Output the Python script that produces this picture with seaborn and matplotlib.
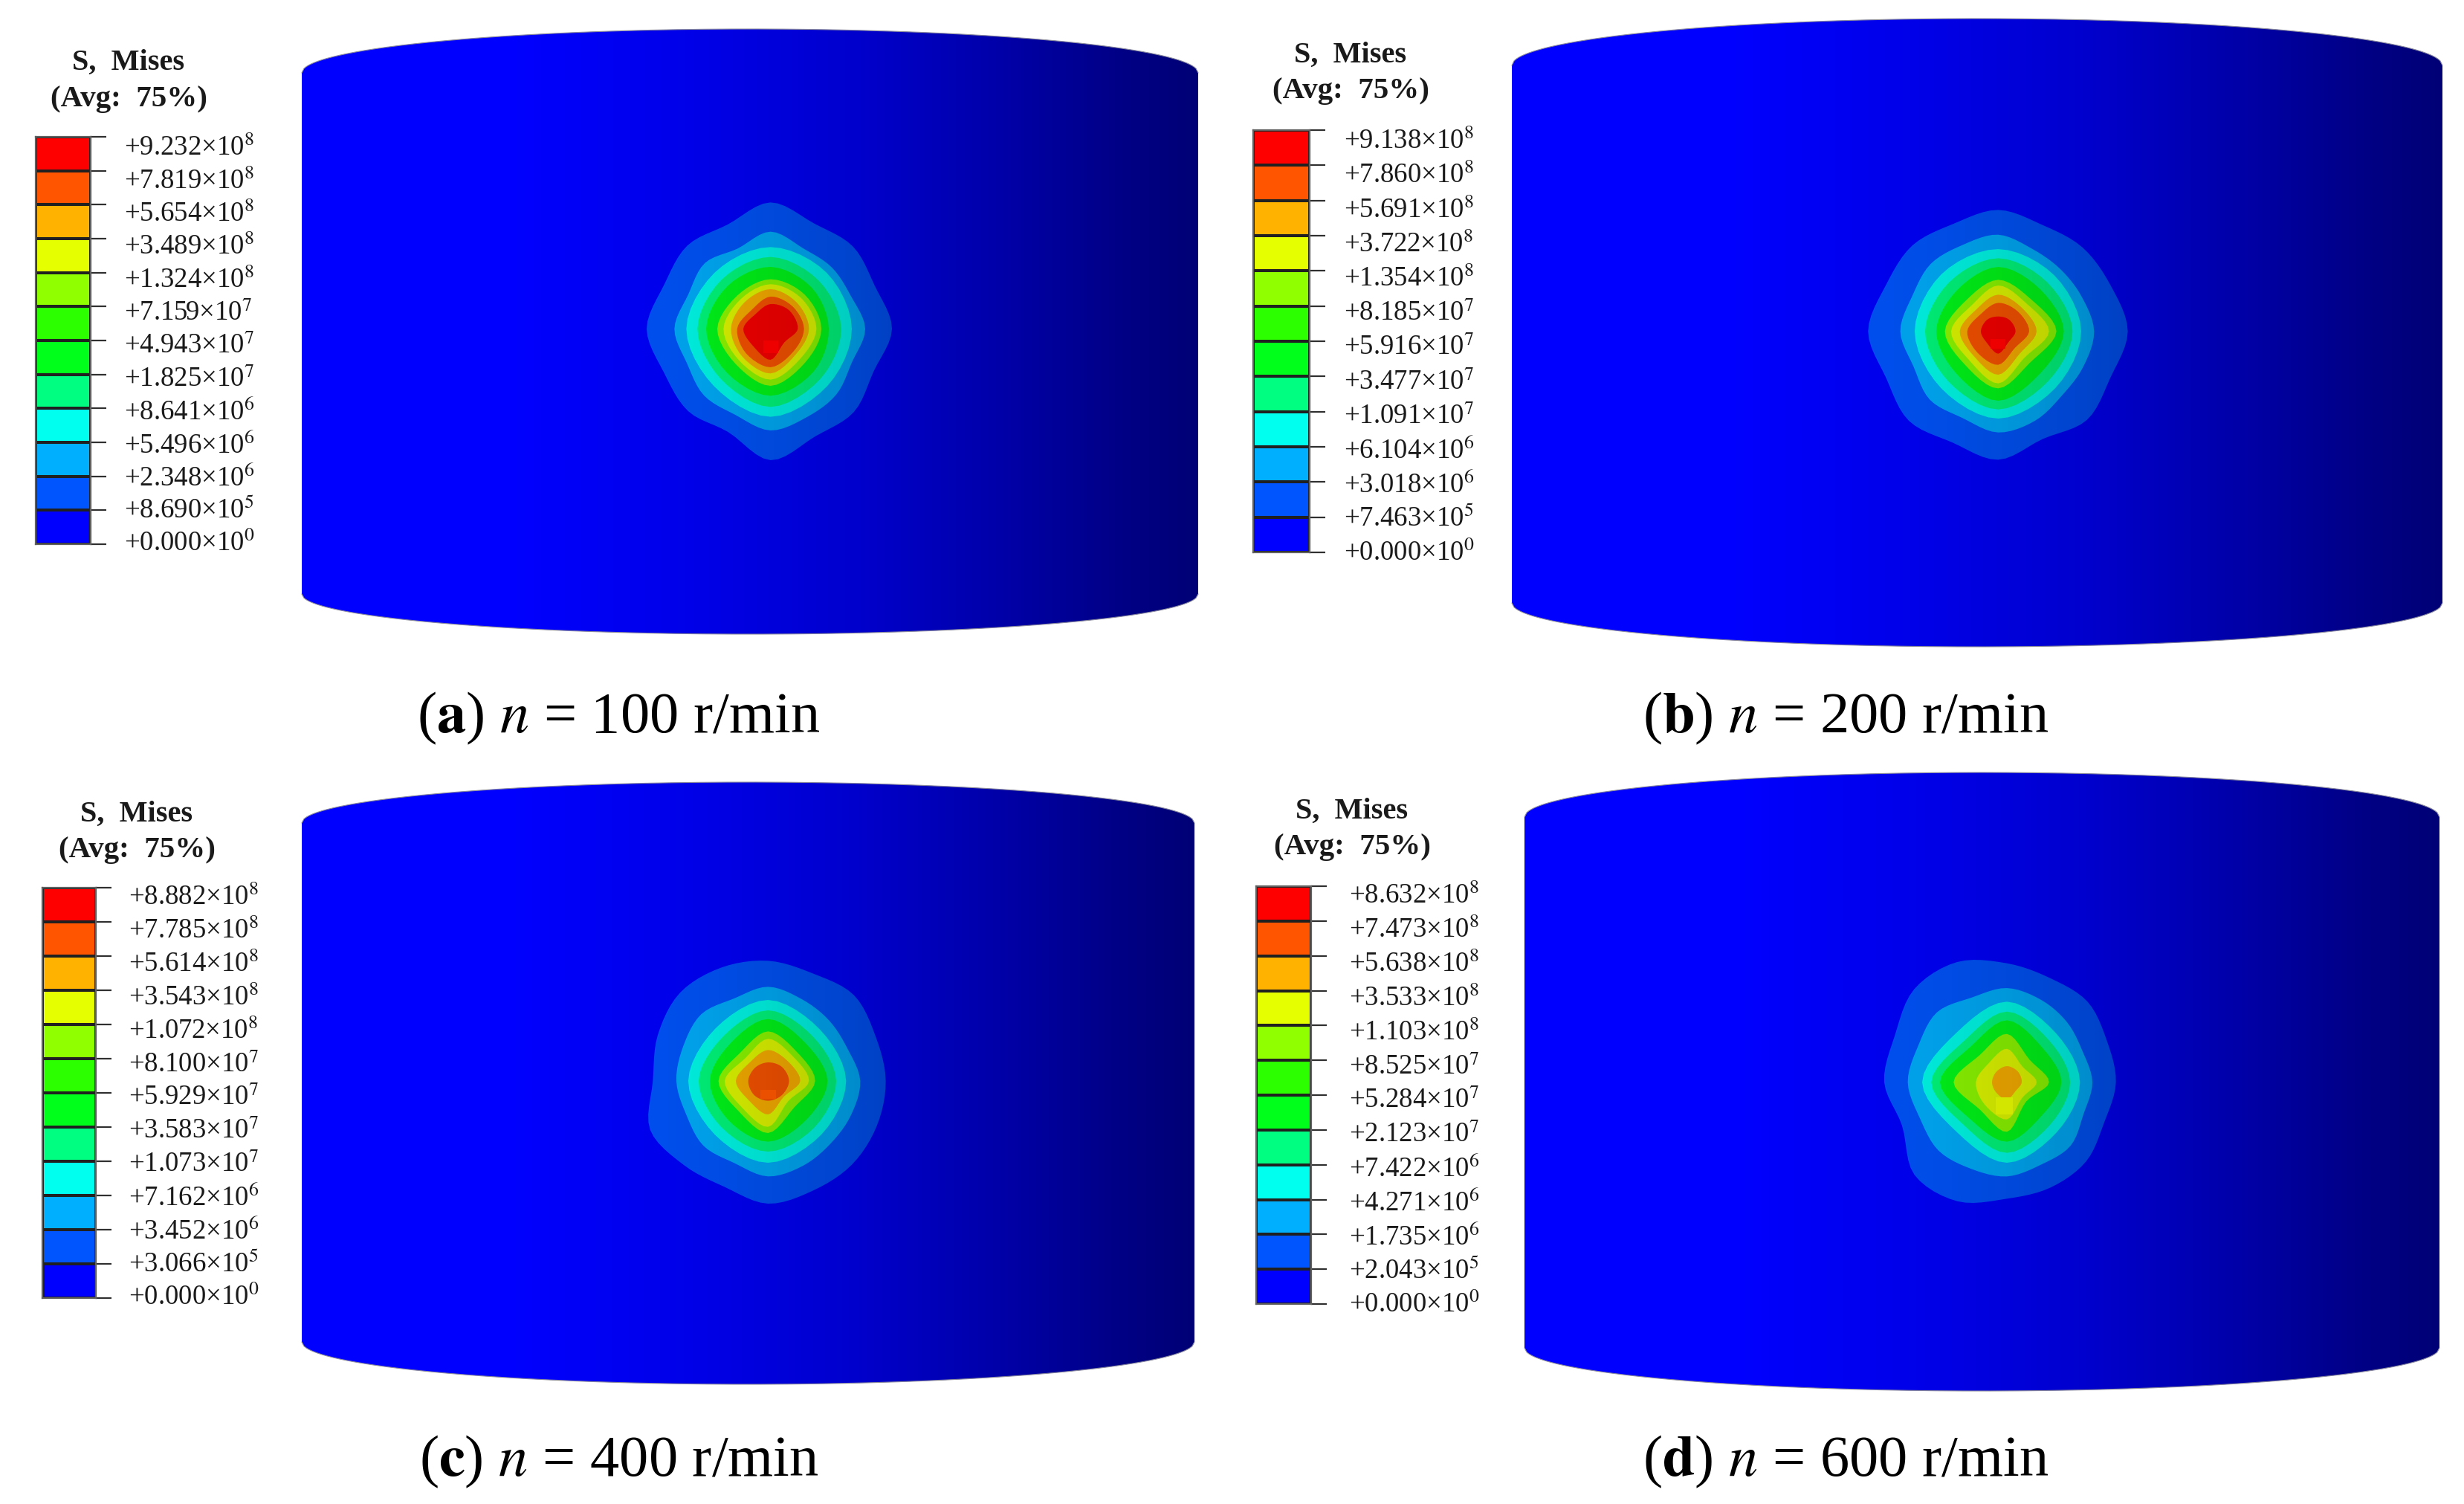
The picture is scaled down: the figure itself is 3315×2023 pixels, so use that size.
import numpy as np
import matplotlib
matplotlib.use("Agg")
import matplotlib.pyplot as plt
from matplotlib.colors import ListedColormap
from matplotlib.patches import Polygon
import seaborn as sns

sns.set_theme(style="white")
plt.rcParams["font.family"] = ["Liberation Serif", "DejaVu Serif"]
plt.rcParams["mathtext.fontset"] = "stix"

W, H = 3316, 2024

band_colors = ["#ff0000", "#ff5500", "#ffb300", "#e6ff00", "#90ff00", "#2bff00",
               "#00ff1a", "#00ff80", "#00ffee", "#00b0ff", "#0055ff", "#0000ff"]

labels_a = ["+9.232×10$^{8}$", "+7.819×10$^{8}$", "+5.654×10$^{8}$", "+3.489×10$^{8}$", "+1.324×10$^{8}$",
            "+7.159×10$^{7}$", "+4.943×10$^{7}$", "+1.825×10$^{7}$", "+8.641×10$^{6}$", "+5.496×10$^{6}$",
            "+2.348×10$^{6}$", "+8.690×10$^{5}$", "+0.000×10$^{0}$"]
labels_b = ["+9.138×10$^{8}$", "+7.860×10$^{8}$", "+5.691×10$^{8}$", "+3.722×10$^{8}$", "+1.354×10$^{8}$",
            "+8.185×10$^{7}$", "+5.916×10$^{7}$", "+3.477×10$^{7}$", "+1.091×10$^{7}$", "+6.104×10$^{6}$",
            "+3.018×10$^{6}$", "+7.463×10$^{5}$", "+0.000×10$^{0}$"]
labels_c = ["+8.882×10$^{8}$", "+7.785×10$^{8}$", "+5.614×10$^{8}$", "+3.543×10$^{8}$", "+1.072×10$^{8}$",
            "+8.100×10$^{7}$", "+5.929×10$^{7}$", "+3.583×10$^{7}$", "+1.073×10$^{7}$", "+7.162×10$^{6}$",
            "+3.452×10$^{6}$", "+3.066×10$^{5}$", "+0.000×10$^{0}$"]
labels_d = ["+8.632×10$^{8}$", "+7.473×10$^{8}$", "+5.638×10$^{8}$", "+3.533×10$^{8}$", "+1.103×10$^{8}$",
            "+8.525×10$^{7}$", "+5.284×10$^{7}$", "+2.123×10$^{7}$", "+7.422×10$^{6}$", "+4.271×10$^{6}$",
            "+1.735×10$^{6}$", "+2.043×10$^{5}$", "+0.000×10$^{0}$"]

captions = [r"($\mathbf{a}$) $n$ = 100 r/min", r"($\mathbf{b}$) $n$ = 200 r/min",
            r"($\mathbf{c}$) $n$ = 400 r/min", r"($\mathbf{d}$) $n$ = 600 r/min"]

# contour radii, counter-clockwise from east, outermost band first (crop units, 3 per image px)
rings_a = [
    [490,455,470,460,510,455,475,465,500,465,470,450,530,470,475,450],
    [382,350,350,350,392,350,375,360,388,365,380,375,410,385,375,355],
    [328,320,330,320,340,325,355,325],
    [285,275,290,280,295,285,315,285],
    [235,235,250,245,260,250,270,245],
    [205,195,200,190,215,200,230,195],
    [185,175,180,170,190,180,205,170],
    [155,150,160,150,160,160,180,145],
    [135,127,130,108,135,140,155,130],
    [110,106,100,85,110,99,125,78],
]
rings_b = [
    [523,490,480,465,490,470,490,490,525,490,510,485,518,470,506,490],
    [387,365,355,360,390,377,385,375,395,370,390,378,408,390,365,372],
    [335,320,332,325,337,325,352,325],
    [300,280,295,280,295,285,315,285],
    [265,240,260,235,250,240,280,240],
    [235,185,208,180,215,190,230,180],
    [205,160,185,150,190,165,210,150],
    [155,135,148,125,155,140,175,125],
    [125,113,115,99,125,120,135,95],
    [70,65,60,65,70,65,90,60],
]
rings_c = [
    [475,470,490,470,485,495,503,482,465,515,480,462,495,478,478,475],
    [372,346,347,357,380,360,381,370,370,357,369,358,385,370,357,362],
    [315,295,327,300,322,305,330,305],
    [275,255,285,255,280,265,285,265],
    [240,215,250,215,235,225,245,220],
    [190,165,200,160,200,170,210,150],
    [165,141,170,130,175,150,185,115],
    [130,113,125,105,130,110,135,90],
    [85,80,75,75,80,80,80,80],
]
rings_d = [
    [440,437,460,455,480,525,530,490,495,458,528,520,470,460,452,425],
    [345,330,343,360,380,370,399,387,400,380,390,378,380,360,363,335],
    [295,280,325,285,342,285,325,285],
    [255,240,285,240,305,245,285,245],
    [220,200,250,205,270,210,240,195],
    [170,129,195,155,215,155,200,110],
    [120,89,135,106,125,127,150,88],
    [60,62,65,60,60,60,70,50],
]
ring_bands = [10, 9, 8, 7, 6, 4, 3, 2, 1, 0]
# brightness of the surface across the cylinder width
shade_pos = [0.0, 0.22, 0.45, 0.62, 0.78, 0.92, 1.0]
shade_val = [1.0, 1.0, 0.90, 0.80, 0.66, 0.52, 0.46]

panels = [
    dict(cyl=(406, 1612, 40, 99, 800, 854), center=(1036.7, 443.3), rings=rings_a,
         patch=(0, 72, 30, 26, "#ee0000"), bar=(48, 122, 185, 733), lab_x=167, lab_y=(200, 732),
         title=(173, 84, 133), labels=labels_a, cap=(561, 966)),
    dict(cyl=(2034, 3286, 26, 89, 812, 871), center=(2688.3, 446.7), rings=rings_b,
         patch=(0, 50, 30, 20, "#ee0000"), bar=(1686, 1762, 176, 744), lab_x=1808, lab_y=(191, 745),
         title=(1817, 74, 122), labels=labels_b, cap=(2210, 966)),
    dict(cyl=(406, 1607, 1053, 1108, 1806, 1863), center=(1033.3, 1455.0), rings=rings_c,
         patch=(0, 55, 32, 18, "#eb5000"), bar=(57, 129, 1195, 1747), lab_x=173, lab_y=(1208, 1746),
         title=(184, 1095, 1144), labels=labels_c, cap=(564, 1966)),
    dict(cyl=(2051, 3282, 1040, 1100, 1814, 1872), center=(2700.0, 1456.7), rings=rings_d,
         patch=(-10, 95, 34, 34, "#d2e600"), bar=(1690, 1764, 1193, 1755), lab_x=1815, lab_y=(1206, 1756),
         title=(1819, 1091, 1140), labels=labels_d, cap=(2210, 1966)),
]

fig = plt.figure(figsize=(W / 100, H / 100), dpi=100, facecolor="white")
ax = fig.add_axes([0, 0, 1, 1])
ax.set_xlim(0, W)
ax.set_ylim(H, 0)
ax.axis("off")


def ring_xy(center, radii, sub=6):
    """Closed outline through the read contour vertices, with rounded corners."""
    n = len(radii)
    ang = np.linspace(0, 2 * np.pi, n, endpoint=False)
    r = np.asarray(radii, float) / 3
    pts = np.column_stack([center[0] + r * np.cos(ang), center[1] - r * np.sin(ang)])
    out = []
    for i in range(n):
        p0, p1, p2, p3 = pts[i - 1], pts[i], pts[(i + 1) % n], pts[(i + 2) % n]
        for t in np.linspace(0, 1, sub, endpoint=False):
            out.append(0.5 * (2 * p1 + (p2 - p0) * t + (2 * p0 - 5 * p1 + 4 * p2 - p3) * t ** 2
                              + (3 * p1 - p0 - 3 * p2 + p3) * t ** 3))
    return np.array(out)


for k, p in enumerate(panels):
    xl, xr, ya, yc, yb, ybot = p["cyl"]
    xs = np.linspace(xl, xr, 400)
    t = np.sqrt(np.clip(1 - ((xs - (xl + xr) / 2) / ((xr - xl) / 2)) ** 2, 0, 1))
    top = yc - (yc - ya) * t
    bot = yb + (ybot - yb) * t
    outline = np.vstack([np.column_stack([xs, top]), np.column_stack([xs[::-1], bot[::-1]])])
    ax.add_patch(Polygon(outline, closed=True, facecolor="#0000ff", edgecolor="none", zorder=1))

    for i, radii in enumerate(p["rings"]):
        ax.add_patch(Polygon(ring_xy(p["center"], radii), closed=True,
                             facecolor=band_colors[ring_bands[i]], edgecolor="none", zorder=2 + i * 0.01))

    shade = np.interp(np.linspace(0, 1, 120), shade_pos, shade_val)
    rgba = np.zeros((1, 120, 4))
    rgba[..., 3] = 1 - shade
    im = ax.imshow(rgba, extent=(xl, xr, ybot, ya), aspect="auto", zorder=3, interpolation="bilinear")
    im.set_clip_path(Polygon(outline, closed=True, transform=ax.transData))

    dx, dy, hw, hh, col = p["patch"]
    cx, cy = p["center"] + np.array([dx, dy]) / 3
    ax.fill([cx - hw / 3, cx + hw / 3, cx + hw / 3, cx - hw / 3],
            [cy - hh / 3, cy - hh / 3, cy + hh / 3, cy + hh / 3], color=col, lw=0, zorder=4)

    ax.plot(xs, top, color="#8c8c9c", lw=0.8, zorder=5)
    ax.plot(xs, bot, color="#8c8c9c", lw=0.8, zorder=5)

    # legend bar
    bx0, bx1, by0, by1 = p["bar"]
    lax = fig.add_axes([bx0 / W, 1 - by1 / H, (bx1 - bx0) / W, (by1 - by0) / H])
    sns.heatmap(np.arange(12).reshape(12, 1), cmap=ListedColormap(band_colors), vmin=-0.5, vmax=11.5,
                cbar=False, linewidths=1.6, linecolor="#202020", xticklabels=False, yticklabels=False, ax=lax)
    lax.yaxis.tick_right()
    lax.set_yticks(np.arange(13))
    lax.set_yticklabels([])
    lax.tick_params(axis="y", right=True, left=False, length=15, width=1.6, color="#303030", pad=0)
    for s in lax.spines.values():
        s.set_visible(True)
        s.set_color("#606060")
        s.set_linewidth(1.6)

    for lab, y in zip(p["labels"], np.linspace(p["lab_y"][0], p["lab_y"][1], 13)):
        ax.text(p["lab_x"], y, lab, fontsize=26.5, color="#1a1a1a", va="center", ha="left", zorder=6)

    tx, ty1, ty2 = p["title"]
    ax.text(tx, ty1, "S,  Mises", fontsize=29, fontweight="bold", color="#1a1a1a", ha="center", va="center")
    ax.text(tx, ty2, "(Avg:  75%)", fontsize=29.5, fontweight="bold", color="#1a1a1a", ha="center", va="center")
    ax.text(p["cap"][0], p["cap"][1], captions[k], fontsize=56.5, color="black", ha="left", va="center")

fig.savefig("out.png", dpi=100, facecolor="white")
